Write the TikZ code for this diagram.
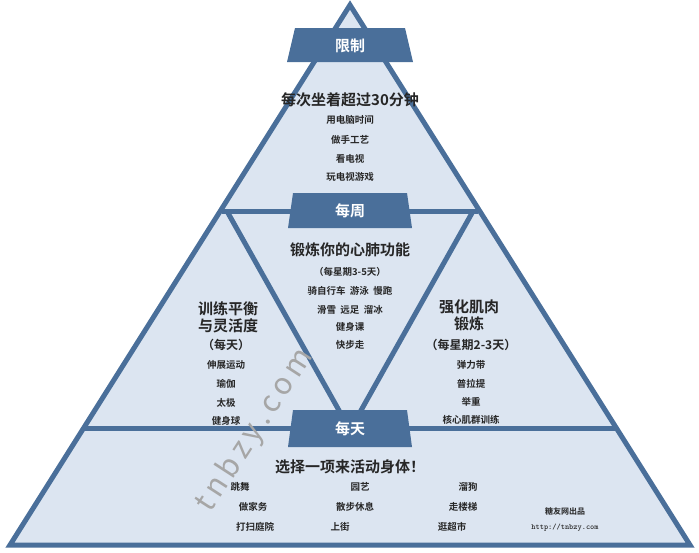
\documentclass[tikz,border=0pt]{standalone}
\usepackage{fontspec}
\setmainfont{Noto Sans CJK SC}[BoldFont={* Bold}]
\definecolor{edgeblue}{HTML}{4A6F9A}
\definecolor{paleblue}{HTML}{DCE5F1}
\tikzset{
  tabtext/.style={text=white,font=\bfseries\fontsize{15}{15}\selectfont},
  headtext/.style={text=black!85,font=\bfseries\fontsize{15}{17}\selectfont,align=center},
  itemtext/.style={text=black!85,font=\bfseries\fontsize{9.5}{10}\selectfont},
  subtext/.style={text=black!85,font=\bfseries\fontsize{12}{13}\selectfont}
}
\begin{document}
\begin{tikzpicture}[x=1pt,y=-1pt]
\useasboundingbox (0,0) rectangle (699,552);
% pyramid
\coordinate (T) at (350,5);
\coordinate (L) at (10,545);
\coordinate (R) at (690,545);
\draw[edgeblue,line width=5pt,fill=paleblue,line join=miter] (T) -- (L) -- (R) -- cycle;
\draw[edgeblue,line width=5pt] (222,211) -- (478,211);
\draw[edgeblue,line width=5pt] (84,428) -- (616,428);
\draw[edgeblue,line width=5pt] (228,213) -- (350,430) -- (472,213);
% tabs
\fill[edgeblue] (295,28) -- (405,28) -- (413,62) -- (287,62) -- cycle;
\fill[edgeblue] (293,193) -- (407,193) -- (412,228) -- (288,228) -- cycle;
\fill[edgeblue] (293,410) -- (407,410) -- (412,447) -- (288,447) -- cycle;
\node[tabtext] (limit) at (350,46) {限制};
\node[tabtext] (weekly) at (350,211) {每周};
\node[tabtext] (daily) at (350,429) {每天};
% top
\node[headtext] (sit) at (350,100) {每次坐着超过30分钟};
\node[itemtext] (t1) at (350,120) {用电脑时间};
\node[itemtext] (t2) at (350,140) {做手工艺};
\node[itemtext] (t3) at (350,159) {看电视};
\node[itemtext] (t4) at (350,177) {玩电视游戏};
% middle
\node[headtext] (cardio) at (350,250) {锻炼你的心肺功能};
\node[itemtext] (c0) at (350,272) {（每星期3-5天）};
\node[itemtext] (c1) at (350,291) {骑自行车\ \ 游泳\ \ 慢跑};
\node[itemtext] (c2) at (350,310) {滑雪\ \ 远足\ \ 溜冰};
\node[itemtext] (c3) at (350,327) {健身课};
\node[itemtext] (c4) at (350,345) {快步走};
% left
\node[headtext] (balance) at (228,317) {训练平衡\\与灵活度};
\node[subtext] (b0) at (226,345) {（每天）};
\node[itemtext] (b1) at (226,365) {伸展运动};
\node[itemtext] (b2) at (226,384) {瑜伽};
\node[itemtext] (b3) at (226,403) {太极};
\node[itemtext] (b4) at (226,421) {健身球};
% right
\node[headtext] (muscle) at (469,315) {强化肌肉\\锻炼};
\node[subtext] (m0) at (471,345) {（每星期2-3天）};
\node[itemtext] (m1) at (471,365) {弹力带};
\node[itemtext] (m2) at (471,384) {普拉提};
\node[itemtext] (m3) at (471,402) {举重};
\node[itemtext] (m4) at (471,420) {核心肌群训练};
% bottom
\node[headtext] (choose) at (350,467) {选择一项来活动身体！};
\node[itemtext] (d1) at (240,487) {跳舞};
\node[itemtext] (d2) at (360,487) {园艺};
\node[itemtext] (d3) at (468,487) {溜狗};
\node[itemtext] (d4) at (253,507) {做家务};
\node[itemtext] (d5) at (355,507) {散步休息};
\node[itemtext] (d6) at (463,507) {走楼梯};
\node[itemtext] (d7) at (255,527) {打扫庭院};
\node[itemtext] (d8) at (340,527) {上街};
\node[itemtext] (d9) at (452,527) {逛超市};
\node[itemtext,font=\bfseries\fontsize{8}{9}\selectfont] (credit) at (565,511) {糖友网出品};
\node[itemtext,font=\ttfamily\bfseries\fontsize{8}{9}\selectfont] (url) at (565,528) {http://tnbzy.com};
% watermark
\node[text=black!35,font=\fontsize{30}{30}\selectfont,rotate=57] (mark) at (255,430) {t\,n\,b\,z\,y\,.\,c\,o\,m};
\end{tikzpicture}
\end{document}
